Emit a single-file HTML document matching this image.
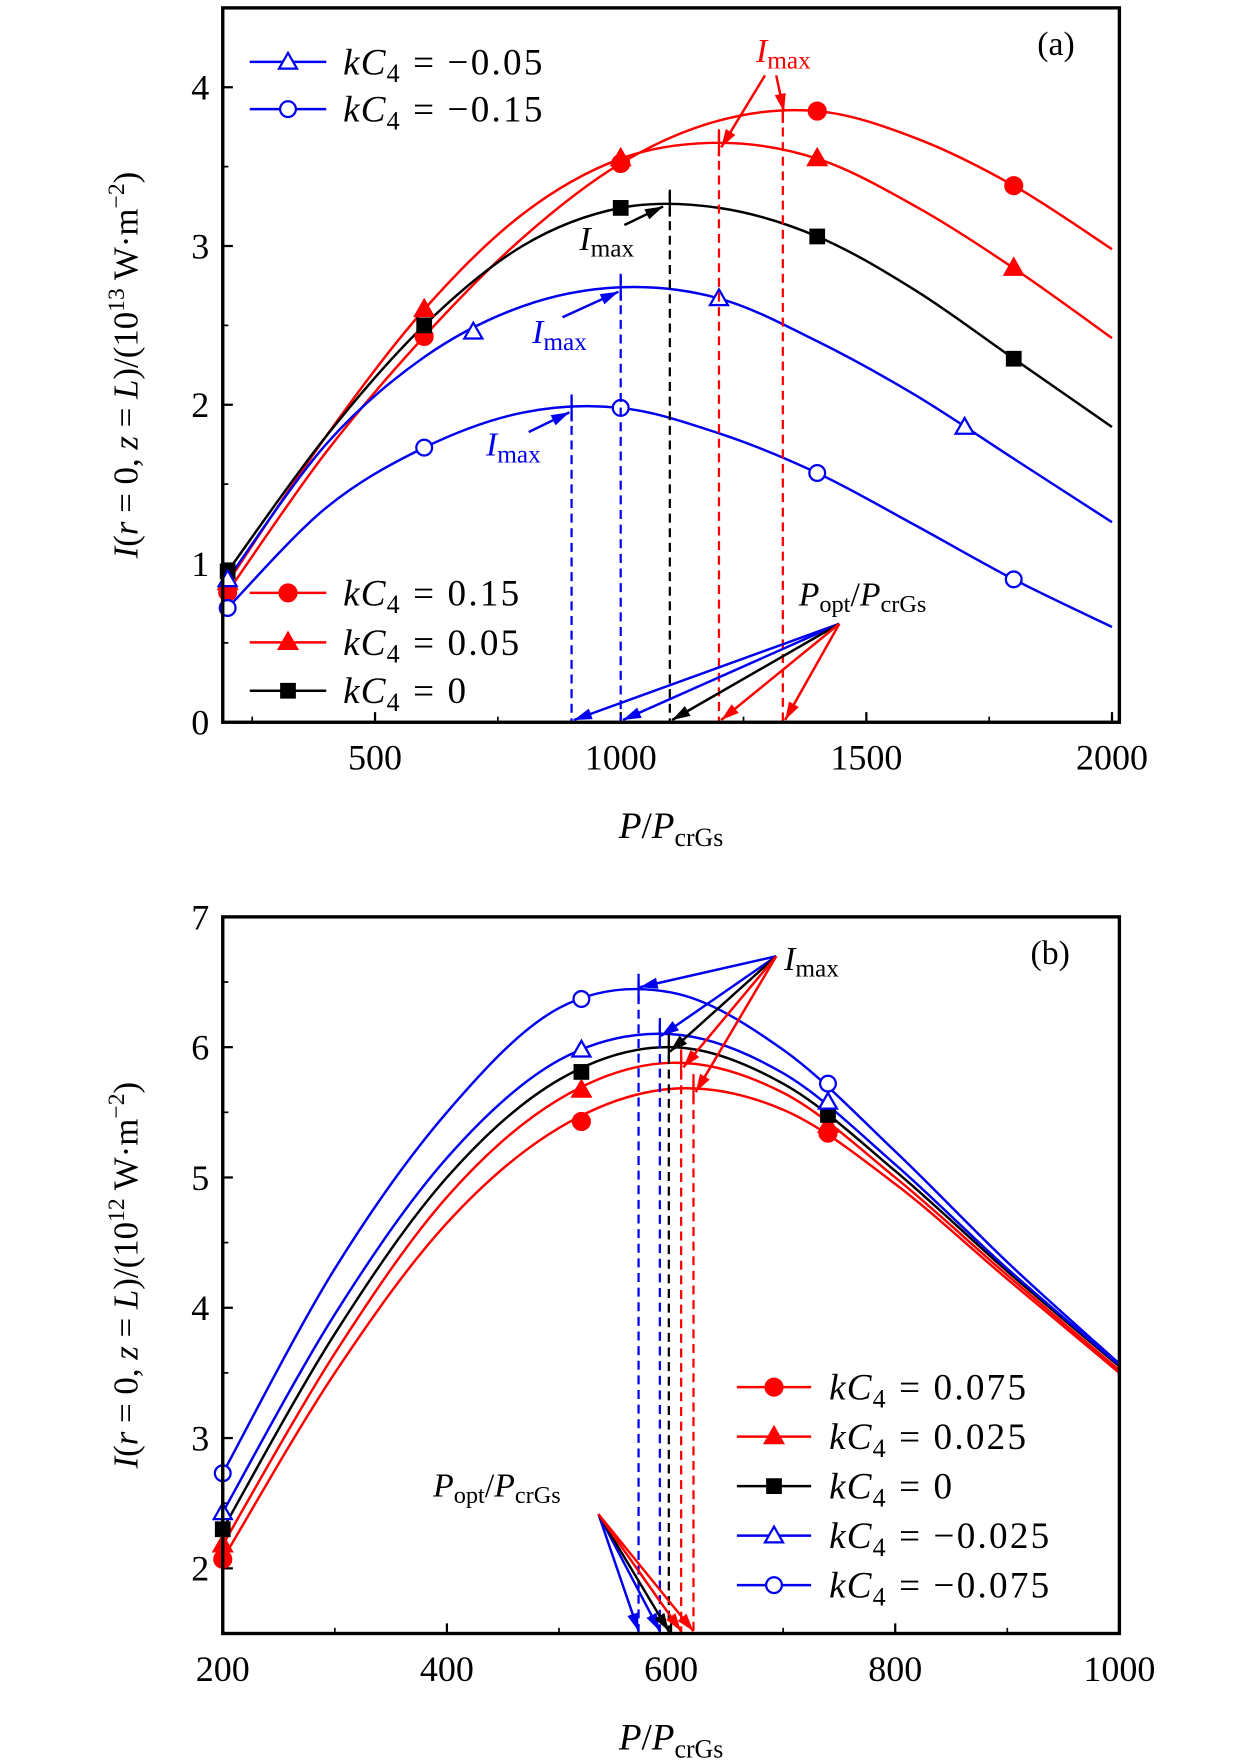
<!DOCTYPE html>
<html><head><meta charset="utf-8"><style>
html,body{margin:0;padding:0;background:#fff;}
svg{display:block;}
text{font-family:"Liberation Serif","DejaVu Serif",serif;}
</style></head><body>
<svg id="fig" width="1260" height="1764" viewBox="0 0 1120 1568" xmlns="http://www.w3.org/2000/svg"></svg>
<script>
// ---- Panel (a) data ----
const aX = [200,400,600,800,1000,1200,1400,1600,1800,2000];
const aRedCircle = [0.82,1.70,2.43,3.05,3.52,3.79,3.85,3.68,3.38,2.98];
const aRedTri    = [0.88,1.80,2.60,3.20,3.55,3.65,3.55,3.25,2.86,2.42];
const aBlack     = [0.95,1.80,2.50,3.00,3.24,3.24,3.06,2.72,2.29,1.86];
const aBlueTri   = [0.90,1.75,2.30,2.62,2.74,2.67,2.40,2.06,1.66,1.26];
const aBlueCirc  = [0.72,1.35,1.73,1.95,1.98,1.82,1.57,1.24,0.90,0.60];
const aMarkX     = [200,600,1000,1400,1800];
const aMarkXTri  = [200,700,1200,1700];
const aPeakX     = [900,1000,1100,1200,1330];
const aPeakY     = [1.98,2.74,3.27,3.65,3.86];
const aXTicks = [500,1000,1500,2000];
const aYTicks = [0,1,2,3,4];
// ---- Panel (b) data ----
const bX = [200,300,400,500,600,700,800,900,1000];
const bBlueCirc = [2.73,4.30,5.50,6.30,6.42,5.98,5.20,4.35,3.57];
const bBlueTri  = [2.43,3.95,5.15,5.90,6.10,5.80,5.10,4.30,3.56];
const bBlack    = [2.30,3.80,5.00,5.75,6.00,5.72,5.05,4.28,3.55];
const bRedTri   = [2.18,3.65,4.85,5.60,5.88,5.65,5.00,4.25,3.52];
const bRedCirc  = [2.07,3.50,4.65,5.38,5.68,5.52,4.95,4.22,3.50];
const bMarkX = [200,520,740];
const bMarkBlueCirc=[2.73,6.37,5.72], bMarkBlueTri=[2.43,5.98,5.58], bMarkBlack=[2.30,5.81,5.48], bMarkRedTri=[2.18,5.67,5.40], bMarkRedCirc=[2.07,5.43,5.34];
const bPeakX = [571,590,598,609,620];
const bPeakY = [6.46,6.12,6.00,5.88,5.69];
const bXTicks=[200,400,600,800,1000];
const bYTicks=[2,3,4,5,6,7];

const NS="http://www.w3.org/2000/svg";
const svg=document.getElementById('fig');
function el(tag,attrs,parent){const e=document.createElementNS(NS,tag);for(const k in attrs)e.setAttribute(k,attrs[k]);(parent||svg).appendChild(e);return e;}
const RED="#ff0000",BLUE="#0000ee",BLK="#000";
function spline(xs,ys,sx,sy){const p=xs.map((x,i)=>[sx(x),sy(ys[i])]);let d=`M${p[0][0]},${p[0][1]}`;
 for(let i=0;i<p.length-1;i++){const p0=p[i-1]||p[i],p1=p[i],p2=p[i+1],p3=p[i+2]||p2;
 d+=` C${p1[0]+(p2[0]-p0[0])/6},${p1[1]+(p2[1]-p0[1])/6} ${p2[0]-(p3[0]-p1[0])/6},${p2[1]-(p3[1]-p1[1])/6} ${p2[0]},${p2[1]}`;}return d;}
function interp(xs,ys,x){for(let i=0;i<xs.length-1;i++){if(x>=xs[i]&&x<=xs[i+1]){const t=(x-xs[i])/(xs[i+1]-xs[i]);return ys[i]+t*(ys[i+1]-ys[i]);}}return ys[ys.length-1];}
function marker(g,type,x,y,color){
 if(type==='circle')return el('circle',{cx:x,cy:y,r:7.5,fill:color,stroke:color,'stroke-width':2},g);
 if(type==='ocircle')return el('circle',{cx:x,cy:y,r:7,fill:'#fff',stroke:color,'stroke-width':2},g);
 if(type==='tri')return el('polygon',{points:`${x},${y-9} ${x-8.5},${y+6} ${x+8.5},${y+6}`,fill:color,stroke:color,'stroke-width':1.5},g);
 if(type==='otri')return el('polygon',{points:`${x},${y-8} ${x-8},${y+6} ${x+8},${y+6}`,fill:'#fff',stroke:color,'stroke-width':2},g);
 if(type==='sq')return el('rect',{x:x-7,y:y-7,width:14,height:14,fill:color},g);
}
function arrow(g,x1,y1,x2,y2,color,name){
 const a=el('line',{x1,y1,x2,y2,stroke:color,'stroke-width':2.2},g);
 
 const ang=Math.atan2(y2-y1,x2-x1),L=16,W=5;
 const bx=x2-L*Math.cos(ang),by=y2-L*Math.sin(ang);
 const h=el('polygon',{points:`${x2},${y2} ${bx+W*Math.sin(ang)},${by-W*Math.cos(ang)} ${bx-W*Math.sin(ang)},${by+W*Math.cos(ang)}`,fill:color},g);
 
}
function kc(g,x,y,val,size){
 const t=el('text',{x,y,'font-size':size},g);
 t.innerHTML=`<tspan font-style="italic" letter-spacing="1">kC</tspan><tspan font-size="${size*0.7}" dy="7">4</tspan><tspan dy="-7" dx="12">=</tspan><tspan dx="12" letter-spacing="2">${val}</tspan>`;return t;
}
function imax(g,x,y,color,size){const t=el('text',{x,y,'font-size':size,fill:color},g);
 t.innerHTML=`<tspan font-style="italic">I</tspan><tspan font-size="${size*0.75}" dy="6">max</tspan>`;return t;}
function popt(g,x,y,size){const t=el('text',{x,y,'font-size':size},g);
 t.innerHTML=`<tspan font-style="italic">P</tspan><tspan font-size="${size*0.72}" dy="6">opt</tspan><tspan dy="-6">/</tspan><tspan font-style="italic">P</tspan><tspan font-size="${size*0.72}" dy="6">crGs</tspan>`;return t;}

function panel(cfg){
 const g=el('g',{});
 const {L,R,T,B,x0,x1,y0,y1}=cfg;
 const sx=v=>L+(v-x0)/(x1-x0)*(R-L), sy=v=>B-(v-y0)/(y1-y0)*(B-T);
 const clip=el('clipPath',{id:'clip'+cfg.id},g);el('rect',{x:L,y:T,width:R-L,height:B-T},clip);
 cfg.xTicks.forEach(v=>{const l=el('line',{x1:sx(v),y1:B,x2:sx(v),y2:B-9,stroke:'#000','stroke-width':2},g);
  const t=el('text',{x:sx(v),y:B+42,'font-size':32,'text-anchor':'middle'},g);t.textContent=v;});
 cfg.xMinor.forEach(v=>{el('line',{x1:sx(v),y1:B,x2:sx(v),y2:B-5,stroke:'#000','stroke-width':1.5},g);});
 cfg.yTicks.forEach(v=>{const l=el('line',{x1:L,y1:sy(v),x2:L+9,y2:sy(v),stroke:'#000','stroke-width':2},g);
  const t=el('text',{x:L-12,y:sy(v)+11,'font-size':32,'text-anchor':'end'},g);t.textContent=v;});
 cfg.yMinor.forEach(v=>{el('line',{x1:L,y1:sy(v),x2:L+5,y2:sy(v),stroke:'#000','stroke-width':1.5},g);});
 const cg=el('g',{'clip-path':`url(#clip${cfg.id})`},g);
 cfg.series.forEach(s=>{const p=el('path',{d:spline(cfg.xs,s.ys,sx,sy),fill:'none',stroke:s.color,'stroke-width':2.2},cg);
  });
 cfg.series.forEach(s=>{s.mx.forEach((x,i)=>{const m=marker(g,s.m,sx(x),sy(s.my[i]),s.color);});});
 cfg.peakX.forEach((x,i)=>{const c=cfg.peakColors[i];
  const d=el('line',{x1:sx(x),y1:sy(cfg.peakY[i])-cfg.peakExt,x2:sx(x),y2:B,stroke:c,'stroke-width':2,'stroke-dasharray':'8,5'},g);
  el('line',{x1:sx(x),y1:sy(cfg.peakY[i])-12,x2:sx(x),y2:sy(cfg.peakY[i])+12,stroke:c,'stroke-width':2},g);});
 const f=el('rect',{x:L,y:T,width:R-L,height:B-T,fill:'none',stroke:'#000','stroke-width':3},g);
 const xt=el('text',{x:(L+R)/2,y:B+103,'font-size':33,'text-anchor':'middle'},g);
 xt.innerHTML=`<tspan font-style="italic">P</tspan>/<tspan font-style="italic">P</tspan><tspan font-size="23" dy="7">crGs</tspan>`;
 const yt=el('text',{transform:`translate(${L-76},${(T+B)/2}) rotate(-90)`,'font-size':31,'text-anchor':'middle'},g);
 yt.innerHTML=`<tspan font-style="italic">I</tspan>(<tspan font-style="italic">r</tspan> = 0, <tspan font-style="italic">z</tspan> = <tspan font-style="italic">L</tspan>)/(10<tspan font-size="21" dy="-12">${cfg.exp}</tspan><tspan dy="12"> W·m</tspan><tspan font-size="21" dy="-12">−2</tspan><tspan dy="12">)</tspan>`;
 
 const lb=el('text',{x:cfg.labX,y:T+42,'font-size':30},g);lb.textContent=cfg.label;
 return {g,sx,sy};
}

const A=panel({id:'a',name:'panel-a',L:198,R:995,T:7,B:642,x0:190,x1:2015,y0:0,y1:4.5,xs:aX,
 xTicks:aXTicks,xMinor:[250,750,1250,1750],yTicks:aYTicks,yMinor:[0.5,1.5,2.5,3.5],exp:'13',label:'(a)',labX:922,peakExt:10,
 peakX:aPeakX,peakY:aPeakY,peakColors:[BLUE,BLUE,BLK,RED,RED],
 series:[
  {name:'a-kc4-0.15',ys:aRedCircle,color:RED,m:'circle',mx:aMarkX,my:aMarkX.map(x=>interp(aX,aRedCircle,x))},
  {name:'a-kc4-0.05',ys:aRedTri,color:RED,m:'tri',mx:aMarkX,my:aMarkX.map(x=>interp(aX,aRedTri,x))},
  {name:'a-kc4-0',ys:aBlack,color:BLK,m:'sq',mx:aMarkX,my:aMarkX.map(x=>interp(aX,aBlack,x))},
  {name:'a-kc4-neg0.05',ys:aBlueTri,color:BLUE,m:'otri',mx:aMarkXTri,my:aMarkXTri.map(x=>interp(aX,aBlueTri,x))},
  {name:'a-kc4-neg0.15',ys:aBlueCirc,color:BLUE,m:'ocircle',mx:aMarkX,my:aMarkX.map(x=>interp(aX,aBlueCirc,x))}]});
(function(){const g=A.g,sx=A.sx,sy=A.sy;
 [[55,'otri',BLUE,'−0.05'],[97,'ocircle',BLUE,'−0.15']].forEach(([y,m,c,v])=>{el('line',{x1:222,y1:y,x2:290,y2:y,stroke:c,'stroke-width':2.2},g);const mk=marker(g,m,256,y,c);const t=kc(g,305,y+11,v,33);});
 [[527,'circle',RED,'0.15'],[571,'tri',RED,'0.05'],[614,'sq',BLK,'0']].forEach(([y,m,c,v])=>{el('line',{x1:222,y1:y,x2:290,y2:y,stroke:c,'stroke-width':2.2},g);const mk=marker(g,m,256,y,c);const t=kc(g,305,y+11,v,33);});
 const ox=sx(1445),oy=sy(0.62);const cols=[BLUE,BLUE,BLK,RED,RED];
 aPeakX.forEach((x,i)=>arrow(g,ox,oy,sx(x)+2,sy(0)-2,cols[i],'popt-arrow'));
 const pt=popt(g,710,538,30);
 let t=imax(g,515,222,BLK,30);
 arrow(g,555,200,sx(aPeakX[2])-6,sy(aPeakY[2])+3,BLK,'imax-arrow');
 t=imax(g,473,305,BLUE,30);
 arrow(g,500,282,sx(aPeakX[1])-2,sy(aPeakY[1])+4,BLUE,'imax-arrow');
 t=imax(g,432,405,BLUE,30);
 arrow(g,470,384,sx(aPeakX[0])-2,sy(aPeakY[0])+4,BLUE,'imax-arrow');
 t=imax(g,672,55,RED,30);
 arrow(g,680,67,sx(aPeakX[3])+2,sy(aPeakY[3])+4,RED,'imax-arrow');
 arrow(g,690,67,sx(aPeakX[4])+1,sy(aPeakY[4])+2,RED,'imax-arrow');
})();

const B=panel({id:'b',name:'panel-b',L:198,R:995,T:815,B:1452,x0:200,x1:1000,y0:1.5,y1:7,xs:bX,
 xTicks:bXTicks,xMinor:[300,500,700,900],yTicks:bYTicks,yMinor:[2.5,3.5,4.5,5.5,6.5],exp:'12',label:'(b)',labX:916,peakExt:6,
 peakX:bPeakX,peakY:bPeakY,peakColors:[BLUE,BLUE,BLK,RED,RED],
 series:[
  {name:'b-kc4-0.075',ys:bRedCirc,color:RED,m:'circle',mx:bMarkX,my:bMarkRedCirc},
  {name:'b-kc4-0.025',ys:bRedTri,color:RED,m:'tri',mx:bMarkX,my:bMarkRedTri},
  {name:'b-kc4-0',ys:bBlack,color:BLK,m:'sq',mx:bMarkX,my:bMarkBlack},
  {name:'b-kc4-neg0.025',ys:bBlueTri,color:BLUE,m:'otri',mx:bMarkX,my:bMarkBlueTri},
  {name:'b-kc4-neg0.075',ys:bBlueCirc,color:BLUE,m:'ocircle',mx:bMarkX,my:bMarkBlueCirc}]});
(function(){const g=B.g,sx=B.sx,sy=B.sy;
 [[1233,'circle',RED,'0.075'],[1277,'tri',RED,'0.025'],[1321,'sq',BLK,'0'],[1365,'otri',BLUE,'−0.025'],[1409,'ocircle',BLUE,'−0.075']].forEach(([y,m,c,v])=>{el('line',{x1:655,y1:y,x2:721,y2:y,stroke:c,'stroke-width':2.2},g);const mk=marker(g,m,688,y,c);const t=kc(g,737,y+11,v,33);});
 const cols=[BLUE,BLUE,BLK,RED,RED];
 const ix=690,iy=850;
 bPeakX.forEach((x,i)=>arrow(g,ix,iy,sx(x)+(i>2?2:1),sy(bPeakY[i])+(i===0?0:4),cols[i],'imax-arrow'));
 let t=imax(g,697,862,BLK,30);
 const ox=532,oy=1346;
 bPeakX.forEach((x,i)=>arrow(g,ox,oy,sx(x),sy(1.5)-2,cols[i],'popt-arrow'));
 t=popt(g,385,1330,30);
})();
</script>
</body></html>
